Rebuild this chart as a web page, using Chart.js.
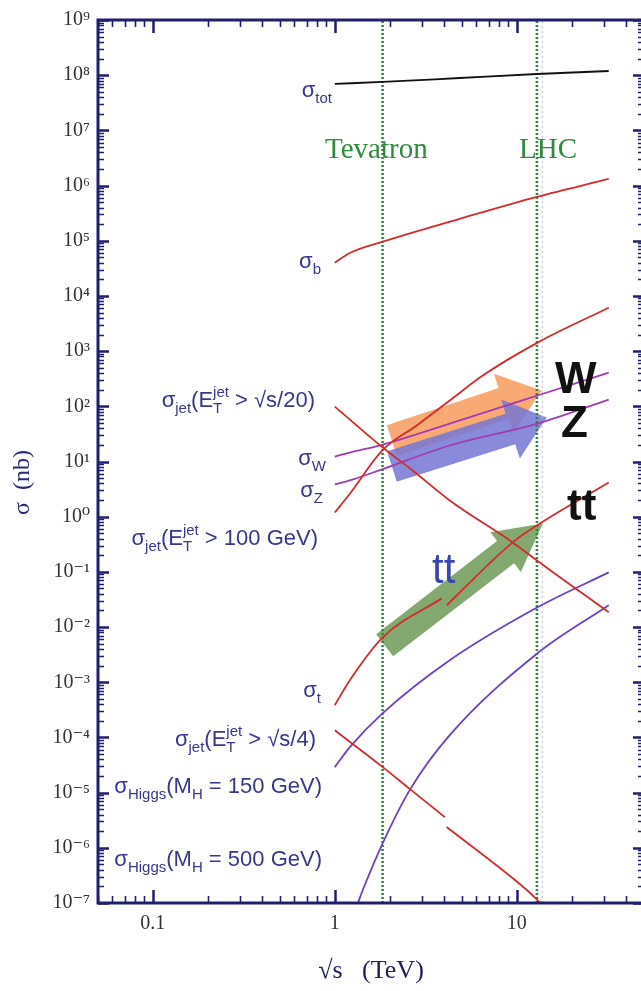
<!DOCTYPE html>
<html>
<head>
<meta charset="utf-8">
<script src="https://cdn.jsdelivr.net/npm/chart.js@4.4.1/dist/chart.umd.min.js"></script>
<style>
html,body{margin:0;padding:0;background:#fff;overflow:hidden;width:641px;height:991px}
#wrap{position:absolute;left:0;top:0;width:660px;height:991px}
</style>
</head>
<body>
<div id="wrap"><canvas id="c" width="660" height="991"></canvas></div>
<script>
// ---------------- data (sqrt(s) in TeV, sigma in nb) ----------------
const xTicks = [0.1, 1, 10];
const yTicks = [1e-7,1e-6,1e-5,1e-4,1e-3,1e-2,1e-1,1,1e1,1e2,1e3,1e4,1e5,1e6,1e7,1e8,1e9];

const totE = [1, 1.83, 4.86, 12.9, 32];
const totS = [6.95e7, 7.55e7, 8.9e7, 1.05e8, 1.19e8];

const bE = [1, 1.21, 1.83, 4.86, 12.9, 32];
const bS = [4.0e4, 6.0e4, 9.6e4, 2.5e5, 6.25e5, 1.32e6];

const jet100E = [1, 1.21, 1.83, 2.82, 4.28, 6.5, 13.0, 32];
const jet100S = [1.19, 2.6, 16, 45, 127, 360, 1426, 6120];

const jet20E = [1, 1.835, 2.68, 4.28, 9.5, 12.9, 32];
const jet20S = [98.9, 17.9, 6.87, 1.97, 0.342, 0.161, 0.0185];

const wE = [1, 1.21, 1.835, 4.28, 13.0, 32];
const wS = [12.3, 14.5, 20.3, 48.7, 157, 408];

const zE = [1, 1.21, 1.835, 4.28, 13.0, 32];
const zS = [3.84, 4.53, 7.3, 19.5, 48.7, 132];

const ttLowE = [1, 1.21, 1.835, 3.87];
const ttLowS = [3.84e-4, 1.09e-3, 6.5e-3, 0.0331];
const ttHighE = [4.12, 9.5, 12.9, 32];
const ttHighS = [0.0248, 0.342, 0.695, 4.17];

const jet4LowE = [1, 1.835, 2.58, 4.02];
const jet4LowS = [1.35e-4, 2.9e-5, 1.17e-5, 3.6e-6];
const jet4HighE = [4.12, 11.35, 13.5];
const jet4HighS = [2.38e-6, 1.72e-7, 1.0e-7];

const h150E = [1, 1.21, 1.835, 4.28, 13.0, 32];
const h150S = [2.9e-5, 6.67e-5, 2.75e-4, 2.5e-3, 0.0228, 0.098];

const h500E = [1.34, 1.425, 1.835, 2.58, 4.28, 13.0, 32];
const h500S = [1e-7, 1.72e-7, 1.22e-6, 1.11e-5, 1.1e-4, 3.35e-3, 0.0248];

const tevatronE = 1.83;
const lhcE = 12.9;
const lhcThinE = 13.8;

// trend arrows (tail, tip in data space)
const arrowW = {tail:[2.06, 24.0], tip:[13.7, 193]};
const arrowZ = {tail:[2.06, 8.13], tip:[14.6, 62.5]};
const arrowTT = {tail:[1.88, 4.68e-3], tip:[13.9, 0.755]};

// ---------------- helpers ----------------
const pts = (xs, ys) => xs.map((x, i) => ({x: x, y: ys[i]}));
const vline = e => [{x: e, y: 1e-7}, {x: e, y: 1e9}];
const SUP = {'-':'\u207B','0':'\u2070','1':'\u00B9','2':'\u00B2','3':'\u00B3','4':'\u2074','5':'\u2075','6':'\u2076','7':'\u2077','8':'\u2078','9':'\u2079'};
const supStr = n => String(n).split('').map(c => SUP[c]).join('');

const RED = '#d42a2a', PURP = '#a03cb4', VIOL = '#6a40c4', NAVY = '#1f1f70', LAB = '#37378c', GREEN = '#2e8b3e';
const SERIF = "'Liberation Serif','DejaVu Serif',serif";
const SANS = "'Liberation Sans',Arial,sans-serif";

function curve(xs, ys, color) {
  return {data: pts(xs, ys), borderColor: color, borderWidth: 1.8, pointRadius: 0, fill: false,
          cubicInterpolationMode: 'monotone'};
}

const datasets = [
  curve(totE, totS, '#111111'),
  curve(bE, bS, RED),
  curve(jet100E, jet100S, RED),
  curve(jet20E, jet20S, RED),
  curve(wE, wS, PURP),
  curve(zE, zS, PURP),
  curve(ttLowE, ttLowS, RED),
  curve(ttHighE, ttHighS, RED),
  curve(jet4LowE, jet4LowS, RED),
  curve(jet4HighE, jet4HighS, RED),
  curve(h150E, h150S, VIOL),
  curve(h500E, h500S, VIOL),
  {data: vline(tevatronE), borderColor: GREEN, borderWidth: 2.6, borderDash: [2, 2], pointRadius: 0},
  {data: vline(lhcE), borderColor: GREEN, borderWidth: 2.6, borderDash: [2, 2], pointRadius: 0},
  {data: vline(lhcThinE), borderColor: '#b8bccc', borderWidth: 1, borderDash: [2, 3], pointRadius: 0}
];

// ---------------- rich text ----------------
const SMALL = 0.66;
function runsWidth(ctx, runs, base) {
  let w = 0;
  const small = Math.round(base * SMALL);
  for (const [t, k] of runs) {
    if (k === 's') {
      ctx.font = small + 'px ' + SANS;
      w += Math.max(ctx.measureText(t[0]).width, ctx.measureText(t[1]).width);
    } else {
      ctx.font = (k === 'n' ? base : small) + 'px ' + SANS;
      w += ctx.measureText(t).width;
    }
  }
  return w;
}
function drawRuns(ctx, runs, xRight, yBase, base, color) {
  let x = xRight - runsWidth(ctx, runs, base);
  ctx.fillStyle = color;
  ctx.textAlign = 'left';
  ctx.textBaseline = 'alphabetic';
  const small = Math.round(base * SMALL);
  for (const [t, k] of runs) {
    if (k === 'n') {
      ctx.font = base + 'px ' + SANS; ctx.fillText(t, x, yBase); x += ctx.measureText(t).width;
    } else if (k === 'b') {
      ctx.font = small + 'px ' + SANS; ctx.fillText(t, x, yBase + base * 0.28); x += ctx.measureText(t).width;
    } else if (k === 'p') {
      ctx.font = small + 'px ' + SANS; ctx.fillText(t, x, yBase - base * 0.45); x += ctx.measureText(t).width;
    } else if (k === 's') {
      ctx.font = small + 'px ' + SANS;
      ctx.fillText(t[0], x, yBase + base * 0.28);
      ctx.fillText(t[1], x, yBase - base * 0.45);
      x += Math.max(ctx.measureText(t[0]).width, ctx.measureText(t[1]).width);
    }
  }
}

const labels = [
  {runs: [['σ','n'],['tot','b']], x: 332, y: 97},
  {runs: [['σ','n'],['b','b']], x: 321, y: 268},
  {runs: [['σ','n'],['jet','b'],['(E','n'],[['T','jet'],'s'],[' > √s/20)','n']], x: 315, y: 407},
  {runs: [['σ','n'],['W','b']], x: 326, y: 465},
  {runs: [['σ','n'],['Z','b']], x: 323, y: 497},
  {runs: [['σ','n'],['jet','b'],['(E','n'],[['T','jet'],'s'],[' > 100 GeV)','n']], x: 318, y: 545},
  {runs: [['σ','n'],['t','b']], x: 321, y: 697},
  {runs: [['σ','n'],['jet','b'],['(E','n'],[['T','jet'],'s'],[' > √s/4)','n']], x: 316, y: 746},
  {runs: [['σ','n'],['Higgs','b'],['(M','n'],['H','b'],[' = 150 GeV)','n']], x: 322, y: 793},
  {runs: [['σ','n'],['Higgs','b'],['(M','n'],['H','b'],[' = 500 GeV)','n']], x: 322, y: 866}
];

function drawArrow(ctx, x0, y0, x1, y1, body, head, headLen, color) {
  const dx = x1 - x0, dy = y1 - y0, L = Math.hypot(dx, dy);
  const ux = dx / L, uy = dy / L, nx = -uy, ny = ux;
  const bx = x1 - ux * headLen, by = y1 - uy * headLen;
  const hb = body / 2, hh = head / 2;
  ctx.beginPath();
  ctx.moveTo(x0 + nx * hb, y0 + ny * hb);
  ctx.lineTo(bx + nx * hb, by + ny * hb);
  ctx.lineTo(bx + nx * hh, by + ny * hh);
  ctx.lineTo(x1, y1);
  ctx.lineTo(bx - nx * hh, by - ny * hh);
  ctx.lineTo(bx - nx * hb, by - ny * hb);
  ctx.lineTo(x0 - nx * hb, y0 - ny * hb);
  ctx.closePath();
  ctx.fillStyle = color;
  ctx.fill();
}

const decor = {
  id: 'decor',
  beforeDatasetsDraw(chart) {
    const {ctx, scales: {x, y}} = chart;
    const P = a => [x.getPixelForValue(a[0]), y.getPixelForValue(a[1])];
    ctx.save();
    let t = P(arrowW.tail), h = P(arrowW.tip);
    drawArrow(ctx, t[0], t[1], h[0], h[1], 32, 62, 40, 'rgba(248,162,104,0.92)');
    t = P(arrowZ.tail); h = P(arrowZ.tip);
    drawArrow(ctx, t[0], t[1], h[0], h[1], 32, 62, 38, 'rgba(118,118,212,0.85)');
    t = P(arrowTT.tail); h = P(arrowTT.tip);
    drawArrow(ctx, t[0], t[1], h[0], h[1], 28, 50, 47, 'rgba(118,158,96,0.9)');
    ctx.restore();
  },
  afterDatasetsDraw(chart) {
    const {ctx, chartArea: a, scales: {x, y}} = chart;
    ctx.save();
    ctx.strokeStyle = NAVY;
    for (let e = -2; e <= 1; e++) {
      for (let m = 1; m <= 9; m++) {
        const v = m * Math.pow(10, e);
        if (v < x.min - 1e-12 || v > x.max) continue;
        const px = Math.round(x.getPixelForValue(v)) + 0.5;
        const major = m === 1, len = major ? 13 : 7;
        ctx.lineWidth = major ? 2.5 : 1.6;
        ctx.beginPath();
        ctx.moveTo(px, a.bottom); ctx.lineTo(px, a.bottom - len);
        ctx.moveTo(px, a.top); ctx.lineTo(px, a.top + len);
        ctx.stroke();
      }
    }
    for (let e = -7; e <= 9; e++) {
      for (let m = 1; m <= 9; m++) {
        const v = m * Math.pow(10, e);
        if (v > y.max * 1.0001) continue;
        const py = Math.round(y.getPixelForValue(v)) + 0.5;
        const major = m === 1, len = major ? 11 : 6;
        ctx.lineWidth = major ? 2.5 : 1.6;
        ctx.beginPath();
        ctx.moveTo(a.left, py); ctx.lineTo(a.left + len, py);
        ctx.moveTo(a.right, py); ctx.lineTo(a.right - len, py);
        ctx.stroke();
      }
    }
    ctx.lineWidth = 3;
    ctx.strokeRect(a.left, a.top, a.right - a.left, a.bottom - a.top);
    ctx.restore();
  },
  afterDraw(chart) {
    const {ctx} = chart;
    ctx.save();
    for (const l of labels) drawRuns(ctx, l.runs, l.x, l.y, 22, LAB);
    ctx.textAlign = 'left';
    ctx.textBaseline = 'alphabetic';
    ctx.fillStyle = GREEN;
    ctx.font = '29px ' + SERIF;
    ctx.fillText('Tevatron', 325, 158);
    ctx.fillText('LHC', 519, 158);
    ctx.fillStyle = '#111';
    ctx.font = 'bold 44px ' + SANS;
    ctx.fillText('W', 555, 393);
    ctx.fillText('Z', 561, 437);
    ctx.fillText('tt', 567, 520);
    ctx.fillStyle = '#3a46b0';
    ctx.font = '42px ' + SANS;
    ctx.fillText('tt', 432, 583);
    ctx.restore();
  }
};

new Chart(document.getElementById('c'), {
  type: 'line',
  data: {datasets: datasets},
  plugins: [decor],
  options: {
    responsive: false,
    animation: false,
    devicePixelRatio: 1,
    layout: {padding: {top: 19, right: 16, left: 0, bottom: 0}},
    plugins: {legend: {display: false}, tooltip: {enabled: false}},
    scales: {
      x: {
        type: 'logarithmic', min: 0.05, max: 50, position: 'bottom',
        afterBuildTicks: s => { s.ticks = xTicks.map(v => ({value: v})); },
        afterFit: s => { s.height = 88; },
        grid: {display: false, drawTicks: false},
        border: {display: false},
        ticks: {autoSkip: false, maxRotation: 0, padding: 9, color: '#333',
                font: {family: SERIF, size: 20},
                callback: v => (v < 1 ? String(v) : String(Math.round(v)))},
        title: {display: true, text: '√s   (TeV)', color: '#1f1f5a',
                font: {family: SERIF, size: 26}, padding: {top: 0, bottom: 4}}
      },
      y: {
        type: 'logarithmic', min: 1e-7, max: 1e9, position: 'left',
        afterBuildTicks: s => { s.ticks = yTicks.map(v => ({value: v})); },
        afterFit: s => { s.width = 98; },
        grid: {display: false, drawTicks: false},
        border: {display: false},
        ticks: {autoSkip: false, padding: 8, color: '#333',
                font: {family: SERIF, size: 20},
                callback: v => '10' + supStr(Math.round(Math.log10(v)))},
        title: {display: true, text: 'σ  (nb)       ', color: '#2a2a7a',
                font: {family: SERIF, size: 24}, padding: {top: 8, bottom: 0}}
      }
    }
  }
});
</script>
</body>
</html>
